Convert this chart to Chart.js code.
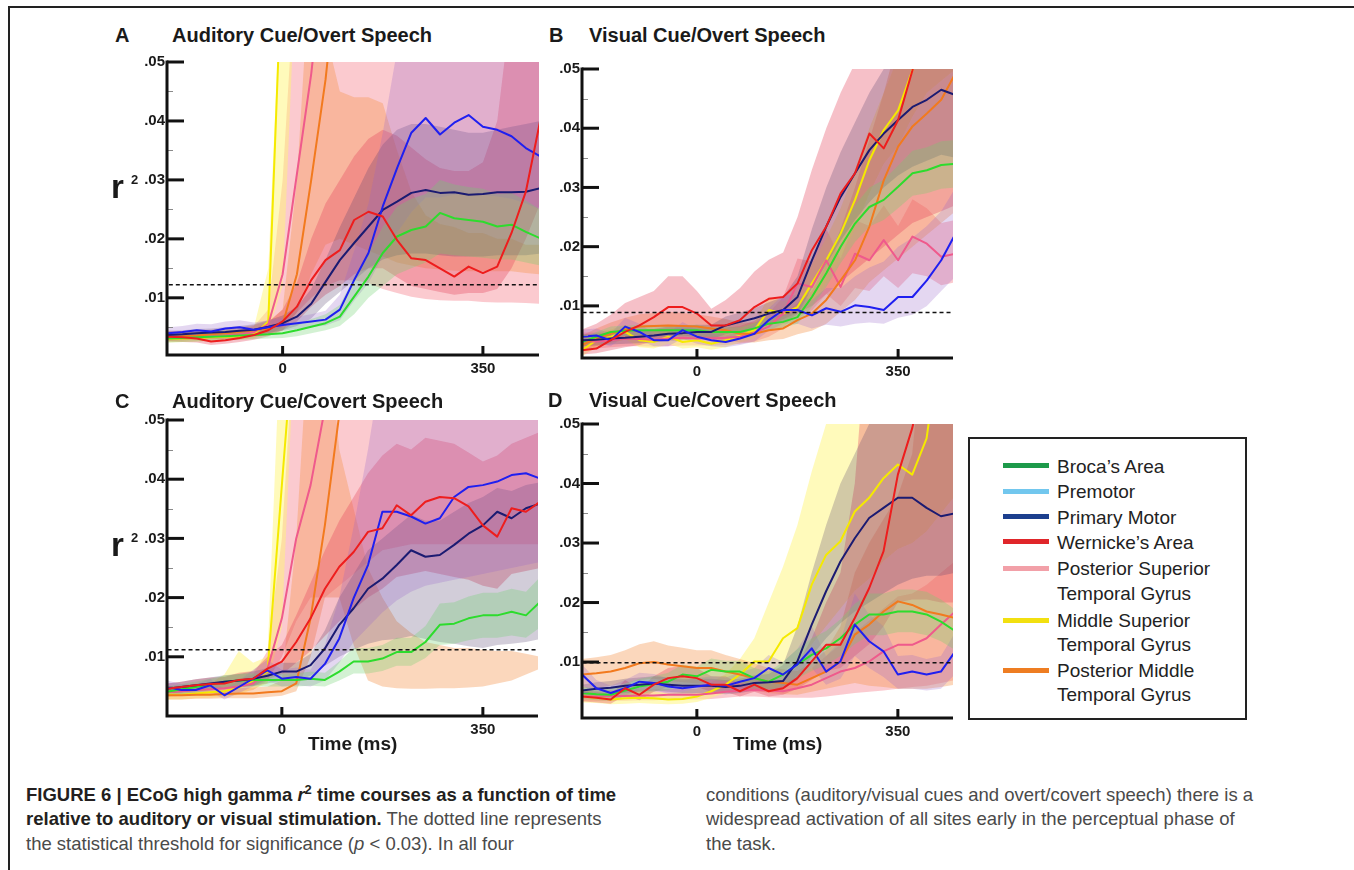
<!DOCTYPE html>
<html>
<head>
<meta charset="utf-8">
<script src="https://cdn.jsdelivr.net/npm/chart.js@4.4.1/dist/chart.umd.min.js"></script>
<style>
  html,body{margin:0;padding:0;background:#fff;}
  #page{position:relative;width:1354px;height:870px;overflow:hidden;background:#fff;font-family:"Liberation Sans",Arial,Helvetica,sans-serif;color:#1a1a1a;}
  canvas{position:absolute;}
  .t{position:absolute;white-space:nowrap;}
  .ttl{font-size:20px;line-height:20px;font-weight:bold;}
  .r{font-size:33px;line-height:33px;font-weight:bold;}
  .sq{font-size:13px;line-height:13px;font-weight:bold;}
  .xt{font-size:19px;line-height:19px;font-weight:bold;}
  .lg{font-size:19px;line-height:19px;color:#222;}
  .sw{position:absolute;left:1003px;width:46px;height:5px;}
  .cap{font-size:18.5px;line-height:18.5px;color:#4a4a4a;}
  .cap b{color:#231f20;}
</style>
</head>
<body>
<div id="page">
  <div style="position:absolute;left:8px;top:6px;width:1346px;height:0;border-top:2px solid #222;"></div>
  <div style="position:absolute;left:8px;top:6px;width:0;height:864px;border-left:2px solid #222;"></div>

  <canvas id="cA"></canvas>
  <canvas id="cB"></canvas>
  <canvas id="cC"></canvas>
  <canvas id="cD"></canvas>

  <div class="t ttl" style="left:115px;top:24.6px;">A</div>
  <div class="t ttl" style="left:172px;top:24.6px;">Auditory Cue/Overt Speech</div>
  <div class="t ttl" style="left:549px;top:24.6px;">B</div>
  <div class="t ttl" style="left:589px;top:24.6px;">Visual Cue/Overt Speech</div>
  <div class="t ttl" style="left:115px;top:390.6px;">C</div>
  <div class="t ttl" style="left:172px;top:390.6px;">Auditory Cue/Covert Speech</div>
  <div class="t ttl" style="left:548px;top:390.1px;">D</div>
  <div class="t ttl" style="left:589px;top:390.1px;">Visual Cue/Covert Speech</div>

  <div class="t r" style="left:111px;top:170.1px;">r</div>
  <div class="t sq" style="left:131px;top:173px;">2</div>
  <div class="t r" style="left:111px;top:528px;">r</div>
  <div class="t sq" style="left:131px;top:531px;">2</div>

  <div class="t xt" style="left:308px;top:734.4px;">Time (ms)</div>
  <div class="t xt" style="left:733px;top:734.4px;">Time (ms)</div>

  <div style="position:absolute;left:968px;top:437px;width:275px;height:279px;border:2px solid #222;"></div>
  <div class="sw" style="top:463px;background:#1d9a4a;"></div>
  <div class="sw" style="top:488.5px;background:#72c7ee;"></div>
  <div class="sw" style="top:514.2px;background:#1c3f8e;"></div>
  <div class="sw" style="top:539.2px;background:#e0262a;"></div>
  <div class="sw" style="top:565.8px;background:#f2a0a8;"></div>
  <div class="sw" style="top:618.2px;background:#f2e010;"></div>
  <div class="sw" style="top:667.5px;background:#ee7d22;"></div>
  <div class="t lg" style="left:1057px;top:457.2px;">Broca’s Area</div>
  <div class="t lg" style="left:1057px;top:482.2px;">Premotor</div>
  <div class="t lg" style="left:1057px;top:508.2px;">Primary Motor</div>
  <div class="t lg" style="left:1057px;top:533.2px;">Wernicke’s Area</div>
  <div class="t lg" style="left:1057px;top:558.9px;">Posterior Superior</div>
  <div class="t lg" style="left:1057px;top:583.9px;">Temporal Gyrus</div>
  <div class="t lg" style="left:1057px;top:610.6px;">Middle Superior</div>
  <div class="t lg" style="left:1057px;top:634.6px;">Temporal Gyrus</div>
  <div class="t lg" style="left:1057px;top:660.6px;">Posterior Middle</div>
  <div class="t lg" style="left:1057px;top:684.6px;">Temporal Gyrus</div>

  <div class="t cap" style="left:26px;top:785.8px;"><b>FIGURE 6 | ECoG high gamma <i>r</i><sup style="font-size:13px;line-height:0;">2</sup> time courses as a function of time</b></div>
  <div class="t cap" style="left:26px;top:810.3px;"><b>relative to auditory or visual stimulation.</b> The dotted line represents</div>
  <div class="t cap" style="left:26px;top:834.8px;">the statistical threshold for significance (<i>p</i> &lt; 0.03). In all four</div>
  <div class="t cap" style="left:706px;top:785.8px;">conditions (auditory/visual cues and overt/covert speech) there is a</div>
  <div class="t cap" style="left:706px;top:810.3px;">widespread activation of all sites early in the perceptual phase of</div>
  <div class="t cap" style="left:706px;top:834.8px;">the task.</div>
</div>

<script>
// ---------- shared axis values ----------
const TIME = [-200,-175,-150,-125,-100,-75,-50,-25,0, 25,50,75,100,125,150,175,200,225, 250,275,300,325,350,375,400,425,450];
const X_TICKS = [0, 350];
const Y_MAJOR = [0.01, 0.02, 0.03, 0.04, 0.05];
const Y_MINOR = [0.005, 0.015, 0.025, 0.035, 0.045];
const THRESHOLDS = [0.0122, 0.0089, 0.0112, 0.0099];

// ---------- Panel A: Auditory Cue / Overt Speech ----------
const aBroca   = [.0031,.0032,.0033,.0034,.0035,.0036,.0037,.0038,.0040, .0045,.0051,.0057,.0068,.0102,.0136,.0176,.0204,.0215, .0221,.0244,.0235,.0232,.0229,.0221,.0224,.0212,.0201];
const aBrocaLo = [.0024,.0025,.0026,.0027,.0028,.0029,.0030,.0031,.0032, .0035,.0040,.0045,.0052,.0072,.0100,.0120,.0140,.0150, .0160,.0175,.0172,.0170,.0168,.0165,.0165,.0160,.0155];
const aBrocaHi = [.0040,.0041,.0042,.0043,.0044,.0045,.0046,.0047,.0050, .0056,.0064,.0072,.0088,.0135,.0175,.0220,.0255,.0268, .0276,.0300,.0292,.0288,.0285,.0276,.0278,.0265,.0250];
const aPrem    = [.0040,.0042,.0045,.0043,.0048,.0050,.0046,.0050,.0054, .0057,.0060,.0063,.0080,.0130,.0176,.0255,.0320,.0380, .0405,.0377,.0397,.0410,.0390,.0385,.0374,.0354,.0340];
const aPremLo  = [.0032,.0034,.0036,.0035,.0038,.0040,.0038,.0041,.0044, .0047,.0050,.0053,.0062,.0095,.0125,.0170,.0210,.0245, .0270,.0270,.0275,.0278,.0275,.0272,.0268,.0260,.0250];
const aPremHi  = [.0050,.0052,.0056,.0055,.0060,.0062,.0058,.0062,.0066, .0068,.0072,.0078,.0105,.0180,.0260,.0380,.0520,.0700, .0700,.0700,.0700,.0700,.0700,.0700,.0650,.0560,.0500];
const aPrim    = [.0037,.0038,.0040,.0041,.0042,.0044,.0046,.0051,.0057, .0068,.0090,.0127,.0164,.0193,.0221,.0249,.0263,.0278, .0283,.0278,.0279,.0275,.0276,.0279,.0279,.0280,.0286];
const aPrimLo  = [.0030,.0031,.0032,.0033,.0034,.0035,.0037,.0040,.0045, .0052,.0065,.0090,.0110,.0130,.0150,.0165,.0172,.0175, .0175,.0172,.0170,.0170,.0170,.0172,.0172,.0172,.0175];
const aPrimHi  = [.0044,.0045,.0047,.0048,.0050,.0052,.0055,.0062,.0070, .0085,.0115,.0165,.0220,.0270,.0320,.0360,.0385,.0395, .0395,.0390,.0385,.0380,.0380,.0385,.0390,.0395,.0400];
const aWern    = [.0034,.0033,.0031,.0026,.0028,.0032,.0037,.0045,.0060, .0085,.0130,.0164,.0181,.0232,.0246,.0238,.0198,.0167, .0164,.0150,.0136,.0153,.0142,.0153,.0210,.0280,.0400];
const aWernLo  = [.0026,.0025,.0024,.0020,.0022,.0025,.0029,.0035,.0045, .0060,.0085,.0105,.0120,.0140,.0150,.0150,.0135,.0120, .0115,.0110,.0105,.0108,.0108,.0115,.0150,.0200,.0260];
const aWernHi  = [.0044,.0043,.0041,.0036,.0038,.0041,.0047,.0058,.0080, .0125,.0200,.0260,.0300,.0340,.0370,.0385,.0375,.0355, .0335,.0320,.0315,.0315,.0330,.0400,.0600,.0700,.0700];
const aPstg    = [.0032,.0033,.0034,.0035,.0036,.0038,.0042,.0055,.0140, .0310,.0480,.0700];
const aPstgLo  = [.0027,.0028,.0029,.0030,.0030,.0031,.0033,.0037,.0050, .0075,.0100,.0120,.0130,.0130,.0125,.0115,.0108,.0102, .0098,.0096,.0095,.0095,.0093,.0092,.0092,.0091,.0090];
const aPstgHi  = [.0040,.0041,.0042,.0043,.0044,.0046,.0052,.0080,.0300, .0700,.0700,.0700,.0700,.0700,.0700,.0700,.0700,.0700, .0700,.0700,.0700,.0700,.0700,.0700,.0700,.0700,.0700];
const aMstg    = [.0030,.0031,.0032,.0033,.0034,.0035,.0038,.0060,.0700];
const aMstgLo  = [.0024,.0025,.0026,.0027,.0028,.0029,.0031,.0042,.0120, .0700];
const aMstgHi  = [.0038,.0039,.0040,.0041,.0042,.0044,.0050,.0150,.0700, .0700];
const aPmtg    = [.0033,.0035,.0036,.0038,.0040,.0042,.0045,.0048,.0055, .0140,.0300,.0470,.0700];
const aPmtgLo  = [.0027,.0028,.0029,.0030,.0031,.0033,.0035,.0038,.0044, .0075,.0140,.0190,.0200,.0190,.0180,.0170,.0160,.0155, .0150,.0148,.0146,.0145,.0145,.0145,.0145,.0142,.0140];
const aPmtgHi  = [.0040,.0042,.0044,.0046,.0048,.0050,.0054,.0060,.0080, .0300,.0700,.0550,.0450,.0440,.0440,.0430,.0350,.0280, .0240,.0225,.0220,.0210,.0210,.0200,.0200,.0190,.0190];

// ---------- Panel B: Visual Cue / Overt Speech ----------
const bBroca   = [.0039,.0048,.0056,.0058,.0059,.0059,.0059,.0059,.0059, .0056,.0056,.0056,.0062,.0070,.0073,.0081,.0115,.0155, .0200,.0239,.0267,.0279,.0301,.0324,.0329,.0338,.0340];
const bBrocaLo = [.0032,.0040,.0047,.0049,.0050,.0050,.0050,.0050,.0050, .0048,.0048,.0048,.0053,.0060,.0063,.0070,.0098,.0132, .0172,.0208,.0234,.0245,.0265,.0286,.0290,.0298,.0300];
const bBrocaHi = [.0046,.0056,.0065,.0067,.0068,.0068,.0068,.0068,.0068, .0064,.0064,.0064,.0071,.0080,.0083,.0092,.0132,.0178, .0228,.0270,.0300,.0313,.0337,.0362,.0368,.0378,.0380];
const bPrem    = [.0048,.0050,.0042,.0065,.0056,.0042,.0042,.0059,.0048, .0042,.0039,.0045,.0053,.0076,.0093,.0093,.0084,.0096, .0090,.0101,.0098,.0093,.0115,.0115,.0143,.0177,.0222];
const bPremLo  = [.0036,.0038,.0032,.0050,.0042,.0032,.0032,.0045,.0036, .0032,.0030,.0034,.0040,.0058,.0070,.0070,.0062,.0068, .0065,.0070,.0072,.0070,.0080,.0085,.0100,.0125,.0150];
const bPremHi  = [.0060,.0062,.0054,.0080,.0070,.0054,.0054,.0073,.0060, .0054,.0050,.0058,.0068,.0096,.0118,.0118,.0110,.0130, .0130,.0150,.0165,.0175,.0200,.0215,.0235,.0260,.0300];
const bPrim    = [.0042,.0043,.0045,.0046,.0048,.0050,.0053,.0054,.0056, .0056,.0067,.0073,.0079,.0087,.0093,.0115,.0177,.0234, .0284,.0324,.0363,.0391,.0414,.0436,.0448,.0465,.0456];
const bPrimLo  = [.0032,.0033,.0035,.0036,.0037,.0039,.0041,.0042,.0044, .0044,.0052,.0057,.0062,.0068,.0072,.0085,.0130,.0170, .0210,.0245,.0275,.0300,.0320,.0335,.0345,.0355,.0350];
const bPrimHi  = [.0052,.0053,.0055,.0057,.0059,.0061,.0065,.0066,.0068, .0068,.0082,.0089,.0096,.0106,.0115,.0150,.0230,.0300, .0360,.0410,.0460,.0500,.0560,.0700,.0700,.0700,.0700];
const bWern    = [.0025,.0028,.0042,.0056,.0067,.0081,.0098,.0098,.0087, .0067,.0067,.0076,.0098,.0112,.0115,.0138,.0194,.0234, .0290,.0324,.0391,.0366,.0414,.0498,.0600];
const bWernLo  = [.0018,.0020,.0025,.0030,.0034,.0040,.0048,.0050,.0048, .0042,.0042,.0046,.0055,.0068,.0078,.0088,.0100,.0120, .0140,.0160,.0180,.0200,.0220,.0240,.0250,.0260,.0270];
const bWernHi  = [.0060,.0070,.0085,.0105,.0115,.0125,.0150,.0150,.0125, .0095,.0110,.0130,.0158,.0178,.0190,.0250,.0330,.0400, .0460,.0510,.0700,.0700,.0700,.0700,.0700,.0700,.0700];
const bPstg    = [.0040,.0040,.0042,.0045,.0044,.0043,.0045,.0046,.0045, .0045,.0046,.0048,.0055,.0065,.0087,.0138,.0132,.0177, .0132,.0188,.0177,.0211,.0177,.0217,.0205,.0183,.0188];
const bPstgLo  = [.0028,.0028,.0030,.0032,.0032,.0031,.0032,.0033,.0033, .0033,.0034,.0036,.0040,.0048,.0062,.0090,.0092,.0120, .0100,.0130,.0125,.0150,.0130,.0155,.0150,.0135,.0140];
const bPstgHi  = [.0055,.0055,.0058,.0062,.0060,.0060,.0062,.0063,.0062, .0062,.0063,.0066,.0075,.0088,.0115,.0180,.0175,.0230, .0180,.0245,.0235,.0270,.0235,.0280,.0265,.0240,.0245];
const bMstg    = [.0025,.0042,.0048,.0056,.0042,.0039,.0048,.0039,.0042, .0036,.0042,.0050,.0059,.0093,.0087,.0098,.0138,.0177, .0222,.0279,.0346,.0397,.0430,.0498,.0600];
const bMstgLo  = [.0015,.0030,.0036,.0044,.0030,.0028,.0036,.0028,.0030, .0026,.0030,.0038,.0045,.0070,.0068,.0075,.0105,.0140, .0180,.0230,.0290,.0340,.0370,.0420,.0460,.0480,.0500];
const bMstgHi  = [.0040,.0055,.0060,.0068,.0055,.0050,.0060,.0050,.0055, .0048,.0055,.0062,.0072,.0115,.0108,.0120,.0170,.0215, .0265,.0330,.0400,.0460,.0520,.0700,.0700,.0700,.0700];
const bPmtg    = [.0034,.0045,.0053,.0060,.0065,.0066,.0067,.0066,.0065, .0062,.0059,.0053,.0053,.0059,.0062,.0076,.0087,.0110, .0143,.0177,.0234,.0312,.0369,.0403,.0425,.0448,.0493];
const bPmtgLo  = [.0024,.0032,.0038,.0043,.0046,.0047,.0048,.0047,.0046, .0044,.0042,.0038,.0038,.0042,.0044,.0052,.0058,.0070, .0090,.0110,.0140,.0160,.0180,.0200,.0220,.0240,.0260];
const bPmtgHi  = [.0050,.0062,.0072,.0080,.0086,.0088,.0090,.0088,.0086, .0082,.0078,.0072,.0072,.0080,.0085,.0105,.0125,.0170, .0230,.0300,.0380,.0460,.0550,.0700,.0700,.0700,.0700];

// ---------- Panel C: Auditory Cue / Covert Speech ----------
const cBroca   = [.0041,.0045,.0049,.0053,.0058,.0060,.0061,.0061,.0061, .0061,.0063,.0061,.0075,.0092,.0092,.0097,.0108,.0108, .0125,.0154,.0156,.0165,.0170,.0170,.0176,.0170,.0193];
const cBrocaLo = [.0033,.0036,.0040,.0043,.0047,.0049,.0050,.0050,.0050, .0050,.0051,.0050,.0060,.0072,.0072,.0076,.0085,.0085, .0098,.0120,.0122,.0128,.0132,.0132,.0136,.0132,.0150];
const cBrocaHi = [.0050,.0054,.0058,.0063,.0068,.0071,.0072,.0072,.0072, .0072,.0075,.0073,.0092,.0115,.0115,.0120,.0132,.0132, .0152,.0190,.0192,.0202,.0208,.0208,.0215,.0210,.0235];
const cPrem    = [.0049,.0044,.0044,.0052,.0035,.0049,.0063,.0077,.0063, .0066,.0063,.0088,.0131,.0199,.0255,.0345,.0345,.0337, .0325,.0334,.0370,.0387,.0390,.0396,.0407,.0410,.0401];
const cPremLo  = [.0039,.0035,.0035,.0042,.0028,.0039,.0050,.0060,.0050, .0052,.0050,.0060,.0090,.0125,.0150,.0175,.0195,.0210, .0220,.0225,.0230,.0235,.0240,.0245,.0250,.0255,.0260];
const cPremHi  = [.0060,.0054,.0054,.0063,.0045,.0060,.0078,.0095,.0078, .0082,.0078,.0120,.0200,.0320,.0450,.0600,.0700,.0700, .0700,.0700,.0700,.0700,.0700,.0700,.0700,.0700,.0700];
const cPrim    = [.0046,.0049,.0052,.0055,.0058,.0060,.0063,.0068,.0075, .0075,.0086,.0114,.0154,.0182,.0215,.0232,.0255,.0280, .0269,.0272,.0289,.0308,.0322,.0345,.0334,.0351,.0359];
const cPrimLo  = [.0038,.0040,.0043,.0045,.0047,.0049,.0051,.0055,.0060, .0060,.0068,.0085,.0100,.0112,.0122,.0128,.0130,.0135, .0130,.0125,.0122,.0118,.0115,.0120,.0122,.0125,.0130];
const cPrimHi  = [.0055,.0058,.0062,.0065,.0069,.0071,.0075,.0081,.0090, .0090,.0105,.0145,.0200,.0240,.0280,.0300,.0320,.0340, .0330,.0330,.0345,.0360,.0370,.0385,.0380,.0390,.0395];
const cWern    = [.0046,.0049,.0052,.0054,.0055,.0061,.0063,.0080,.0092, .0125,.0165,.0215,.0252,.0277,.0311,.0317,.0356,.0339, .0362,.0370,.0368,.0354,.0322,.0303,.0351,.0345,.0362];
const cWernLo  = [.0038,.0040,.0042,.0044,.0045,.0049,.0051,.0062,.0070, .0090,.0110,.0135,.0160,.0180,.0200,.0215,.0235,.0240, .0245,.0240,.0235,.0230,.0220,.0215,.0240,.0245,.0250];
const cWernHi  = [.0055,.0058,.0062,.0065,.0066,.0073,.0076,.0100,.0120, .0170,.0225,.0280,.0330,.0370,.0410,.0440,.0460,.0450, .0470,.0465,.0460,.0445,.0430,.0440,.0460,.0470,.0480];
const cPstg    = [.0040,.0042,.0044,.0045,.0047,.0050,.0055,.0080,.0165, .0300,.0390,.0520];
const cPstgLo  = [.0032,.0034,.0035,.0036,.0038,.0040,.0044,.0060,.0100, .0160,.0200,.0200,.0220,.0240,.0260,.0280,.0285,.0290, .0290,.0290,.0290,.0290,.0290,.0290,.0290,.0290,.0290];
const cPstgHi  = [.0050,.0052,.0054,.0056,.0058,.0062,.0070,.0110,.0300, .0700,.0700,.0700,.0700,.0700,.0700,.0700,.0700,.0700, .0700,.0700,.0700,.0700,.0700,.0700,.0700,.0700,.0700];
const cMstg    = [.0036,.0036,.0038,.0040,.0042,.0048,.0060,.0075,.0390, .0700];
const cMstgLo  = [.0028,.0028,.0030,.0031,.0032,.0036,.0045,.0055,.0150, .0700];
const cMstgHi  = [.0046,.0046,.0050,.0055,.0070,.0110,.0090,.0100,.0700, .0700];
const cPmtg    = [.0035,.0035,.0036,.0036,.0037,.0038,.0038,.0040,.0042, .0055,.0165,.0323,.0510];
const cPmtgLo  = [.0028,.0028,.0029,.0029,.0030,.0030,.0030,.0032,.0034, .0042,.0100,.0200,.0200,.0120,.0060,.0050,.0047,.0046, .0046,.0047,.0047,.0048,.0050,.0055,.0060,.0070,.0080];
const cPmtgHi  = [.0044,.0044,.0045,.0045,.0046,.0047,.0048,.0050,.0060, .0300,.0700,.0700,.0450,.0350,.0250,.0200,.0160,.0140, .0125,.0120,.0115,.0115,.0112,.0110,.0110,.0105,.0100];

// ---------- Panel D: Visual Cue / Covert Speech ----------
const dBroca   = [.0048,.0046,.0045,.0052,.0059,.0063,.0067,.0079,.0076, .0087,.0084,.0084,.0073,.0067,.0079,.0096,.0112,.0123, .0140,.0163,.0180,.0180,.0185,.0185,.0180,.0168,.0152];
const dBrocaLo = [.0038,.0036,.0035,.0040,.0046,.0050,.0053,.0062,.0060, .0070,.0068,.0066,.0058,.0052,.0060,.0072,.0085,.0095, .0110,.0130,.0145,.0145,.0150,.0150,.0145,.0135,.0120];
const dBrocaHi = [.0058,.0056,.0055,.0064,.0072,.0076,.0082,.0096,.0092, .0106,.0102,.0102,.0090,.0084,.0100,.0122,.0140,.0152, .0172,.0198,.0215,.0215,.0222,.0222,.0218,.0205,.0188];
const dPrem    = [.0079,.0056,.0048,.0056,.0067,.0065,.0059,.0056,.0059, .0062,.0060,.0067,.0073,.0090,.0079,.0096,.0123,.0084, .0101,.0163,.0135,.0118,.0079,.0084,.0079,.0084,.0118];
const dPremLo  = [.0062,.0044,.0038,.0044,.0054,.0052,.0047,.0045,.0047, .0050,.0048,.0053,.0058,.0070,.0060,.0072,.0090,.0062, .0072,.0110,.0090,.0075,.0055,.0055,.0052,.0055,.0080];
const dPremHi  = [.0096,.0070,.0060,.0070,.0082,.0080,.0073,.0069,.0073, .0076,.0074,.0083,.0090,.0112,.0100,.0122,.0160,.0110, .0135,.0215,.0180,.0160,.0110,.0112,.0105,.0110,.0150];
const dPrim    = [.0052,.0055,.0057,.0060,.0062,.0064,.0062,.0060,.0060, .0060,.0058,.0060,.0065,.0066,.0068,.0101,.0163,.0219, .0269,.0308,.0342,.0359,.0376,.0376,.0359,.0345,.0350];
const dPrimLo  = [.0042,.0044,.0046,.0048,.0050,.0052,.0050,.0048,.0048, .0048,.0046,.0048,.0052,.0053,.0054,.0070,.0110,.0140, .0165,.0185,.0200,.0215,.0230,.0240,.0245,.0245,.0250];
const dPrimHi  = [.0062,.0066,.0068,.0072,.0074,.0076,.0074,.0072,.0072, .0072,.0070,.0072,.0078,.0080,.0095,.0160,.0250,.0330, .0400,.0450,.0500,.0600,.0700,.0700,.0700,.0700,.0700];
const dWern    = [.0042,.0040,.0037,.0056,.0045,.0062,.0073,.0076,.0073, .0062,.0062,.0051,.0062,.0051,.0056,.0073,.0101,.0129, .0129,.0174,.0224,.0286,.0415,.0493,.0600];
const dWernLo  = [.0034,.0032,.0030,.0044,.0036,.0050,.0058,.0060,.0058, .0050,.0050,.0042,.0050,.0042,.0045,.0055,.0070,.0085, .0090,.0110,.0130,.0160,.0200,.0205,.0205,.0200,.0200];
const dWernHi  = [.0052,.0050,.0046,.0070,.0056,.0076,.0090,.0094,.0090, .0076,.0076,.0064,.0076,.0064,.0070,.0095,.0140,.0200, .0250,.0400,.0700,.0700,.0700,.0700,.0700,.0700,.0700];
const dPstg    = [.0042,.0042,.0043,.0043,.0044,.0044,.0045,.0045,.0045, .0047,.0050,.0052,.0053,.0052,.0051,.0056,.0062,.0073, .0084,.0090,.0101,.0118,.0129,.0129,.0140,.0163,.0185];
const dPstgLo  = [.0034,.0034,.0035,.0035,.0036,.0036,.0037,.0037,.0037, .0038,.0040,.0042,.0042,.0041,.0040,.0040,.0040,.0042, .0045,.0048,.0050,.0052,.0055,.0058,.0060,.0065,.0070];
const dPstgHi  = [.0052,.0052,.0053,.0053,.0054,.0054,.0055,.0055,.0055, .0058,.0062,.0064,.0066,.0065,.0064,.0075,.0090,.0110, .0130,.0150,.0170,.0190,.0210,.0215,.0230,.0250,.0270];
const dMstg    = [.0042,.0040,.0037,.0039,.0040,.0039,.0037,.0038,.0042, .0051,.0062,.0079,.0101,.0101,.0140,.0157,.0230,.0280, .0303,.0353,.0376,.0409,.0432,.0415,.0476,.0650];
const dMstgLo  = [.0032,.0031,.0029,.0030,.0031,.0030,.0029,.0030,.0033, .0040,.0048,.0060,.0065,.0070,.0085,.0100,.0130,.0160, .0190,.0220,.0240,.0270,.0290,.0300,.0320,.0350,.0380];
const dMstgHi  = [.0054,.0052,.0048,.0050,.0052,.0050,.0048,.0050,.0055, .0066,.0080,.0105,.0140,.0200,.0260,.0330,.0420,.0500, .0600,.0700,.0700,.0700,.0700,.0700,.0700,.0700,.0700];
const dPmtg    = [.0079,.0081,.0084,.0090,.0098,.0100,.0096,.0093,.0090, .0090,.0084,.0079,.0073,.0067,.0065,.0062,.0073,.0084, .0101,.0146,.0163,.0185,.0202,.0196,.0185,.0180,.0174];
const dPmtgLo  = [.0055,.0057,.0060,.0064,.0070,.0072,.0068,.0066,.0064, .0064,.0060,.0056,.0052,.0048,.0046,.0045,.0050,.0055, .0060,.0065,.0060,.0058,.0055,.0055,.0055,.0058,.0062];
const dPmtgHi  = [.0105,.0108,.0112,.0120,.0130,.0135,.0128,.0124,.0120, .0120,.0112,.0105,.0098,.0090,.0088,.0085,.0100,.0120, .0160,.0250,.0300,.0340,.0380,.0450,.0700,.0700,.0700];

// ---------- styles (not data) ----------
const STYLE = {
  pstg:  {line:'#ef5a8c', fill:'rgba(248,150,160,0.50)', lineOrder:6, bandOrder:60},
  mstg:  {line:'#f5ea00', fill:'rgba(255,245,120,0.50)', lineOrder:7, bandOrder:55},
  pmtg:  {line:'#f27a1e', fill:'rgba(245,150,80,0.38)',  lineOrder:5, bandOrder:50},
  wern:  {line:'#ee1d1d', fill:'rgba(228,70,95,0.34)',   lineOrder:0, bandOrder:45},
  prim:  {line:'#1b1b72', fill:'rgba(80,60,110,0.26)',   lineOrder:2, bandOrder:40},
  prem:  {line:'#1f1ff0', fill:'rgba(150,100,200,0.26)', lineOrder:1, bandOrder:35},
  broca: {line:'#2ddc2d', fill:'rgba(110,210,110,0.30)', lineOrder:3, bandOrder:30}
};

const PANELS = [
  {canvas:'cA', box:[167,62,539,355], x:[-202,448], y:[0.0003,0.05], thr:THRESHOLDS[0],
   s:{pstg:[aPstg,aPstgLo,aPstgHi], mstg:[aMstg,aMstgLo,aMstgHi], pmtg:[aPmtg,aPmtgLo,aPmtgHi], wern:[aWern,aWernLo,aWernHi],
      prim:[aPrim,aPrimLo,aPrimHi], prem:[aPrem,aPremLo,aPremHi], broca:[aBroca,aBrocaLo,aBrocaHi]}},
  {canvas:'cB', box:[582,69,953,358], x:[-200,445.5], y:[0.0012,0.05], thr:THRESHOLDS[1],
   s:{pstg:[bPstg,bPstgLo,bPstgHi], mstg:[bMstg,bMstgLo,bMstgHi], pmtg:[bPmtg,bPmtgLo,bPmtgHi], wern:[bWern,bWernLo,bWernHi],
      prim:[bPrim,bPrimLo,bPrimHi], prem:[bPrem,bPremLo,bPremHi], broca:[bBroca,bBrocaLo,bBrocaHi]}},
  {canvas:'cC', box:[167,420,538,716], x:[-200,446], y:[0,0.05], thr:THRESHOLDS[2],
   s:{pstg:[cPstg,cPstgLo,cPstgHi], mstg:[cMstg,cMstgLo,cMstgHi], pmtg:[cPmtg,cPmtgLo,cPmtgHi], wern:[cWern,cWernLo,cWernHi],
      prim:[cPrim,cPrimLo,cPrimHi], prem:[cPrem,cPremLo,cPremHi], broca:[cBroca,cBrocaLo,cBrocaHi]}},
  {canvas:'cD', box:[582,424,953,718], x:[-200,446], y:[0.0006,0.05], thr:THRESHOLDS[3],
   s:{pstg:[dPstg,dPstgLo,dPstgHi], mstg:[dMstg,dMstgLo,dMstgHi], pmtg:[dPmtg,dPmtgLo,dPmtgHi], wern:[dWern,dWernLo,dWernHi],
      prim:[dPrim,dPrimLo,dPrimHi], prem:[dPrem,dPremLo,dPremHi], broca:[dBroca,dBrocaLo,dBrocaHi]}}
];

const pts = arr => arr.map((v,i)=>({x:TIME[i], y:v})).filter(p => p.y !== null && p.y !== undefined);

const axisDeco = {
  id:'axisDeco',
  afterDatasetsDraw(chart){
    const {ctx, chartArea:a, scales:{x, y}} = chart;
    ctx.save();
    ctx.lineCap = 'butt';
    ctx.strokeStyle = '#8a8a8a'; ctx.lineWidth = 1;
    Y_MINOR.forEach(v => { const py = Math.round(y.getPixelForValue(v)) + 0.5;
      ctx.beginPath(); ctx.moveTo(a.left, py); ctx.lineTo(a.left + 6, py); ctx.stroke(); });
    ctx.strokeStyle = '#111'; ctx.lineWidth = 3;
    Y_MAJOR.forEach(v => { const py = y.getPixelForValue(v);
      ctx.beginPath(); ctx.moveTo(a.left, py); ctx.lineTo(a.left + 17, py); ctx.stroke(); });
    X_TICKS.forEach(v => { const px = x.getPixelForValue(v);
      ctx.beginPath(); ctx.moveTo(px, a.bottom); ctx.lineTo(px, a.bottom - 9); ctx.stroke(); });
    ctx.beginPath(); ctx.moveTo(a.left, a.top - 1.5); ctx.lineTo(a.left, a.bottom); ctx.lineTo(a.right, a.bottom); ctx.stroke();
    ctx.restore();
  }
};

Chart.defaults.font.family = "'Liberation Sans', Arial, sans-serif";
const YW = 50, XH = 34, PT = 14, PR = 10;

PANELS.forEach(p => {
  const [L, T, R, B] = p.box;
  const cv = document.getElementById(p.canvas);
  const cl = L - YW, ct = T - PT;
  cv.style.left = cl + 'px'; cv.style.top = ct + 'px';
  cv.width = R - cl + PR; cv.height = B - ct + XH;
  cv.style.width = cv.width + 'px'; cv.style.height = cv.height + 'px';

  const datasets = [];
  Object.keys(p.s).forEach(k => {
    const [line, lo, hi] = p.s[k];
    const st = STYLE[k];
    const loIdx = datasets.length;
    datasets.push({data: pts(lo), borderWidth:0, borderColor:'transparent', pointRadius:0, fill:false, order: st.bandOrder + 1, clip:0});
    datasets.push({data: pts(hi), borderWidth:0, borderColor:'transparent', pointRadius:0, fill:{target: loIdx}, backgroundColor: st.fill, order: st.bandOrder, clip:0});
  });
  Object.keys(p.s).forEach(k => {
    const st = STYLE[k];
    datasets.push({data: pts(p.s[k][0]), borderColor: st.line, borderWidth:2, pointRadius:0, fill:false, order: st.lineOrder, clip:0, borderJoinStyle:'round'});
  });
  datasets.push({data:[{x:-260, y:p.thr}, {x:520, y:p.thr}], borderColor:'#111', borderWidth:1.5, borderDash:[4,3], pointRadius:0, fill:false, order:-1, clip:0});

  new Chart(cv, {
    type:'line',
    data:{datasets},
    options:{
      responsive:false, animation:false, events:[],
      layout:{padding:{left:0, top:PT, right:PR, bottom:0}},
      plugins:{legend:{display:false}, tooltip:{enabled:false}},
      elements:{line:{tension:0}},
      scales:{
        x:{type:'linear', min:p.x[0], max:p.x[1],
           grid:{display:false, drawTicks:false}, border:{display:false},
           afterBuildTicks: s => { s.ticks = X_TICKS.map(v => ({value:v})); },
           afterFit: s => { s.height = XH; },
           ticks:{padding:5, color:'#1a1a1a', font:{size:15, weight:'bold'}, maxRotation:0, autoSkip:false,
                  callback: v => String(v)}},
        y:{type:'linear', min:p.y[0], max:p.y[1],
           grid:{display:false, drawTicks:false}, border:{display:false},
           afterFit: s => { s.width = YW; },
           ticks:{stepSize:0.01, padding:2, color:'#1a1a1a', font:{size:15, weight:'bold'}, autoSkip:false,
                  callback: v => v < 0.0095 ? '' : '.0' + Math.round(v * 100)}}
      }
    },
    plugins:[axisDeco]
  });
});
</script>
</body>
</html>
